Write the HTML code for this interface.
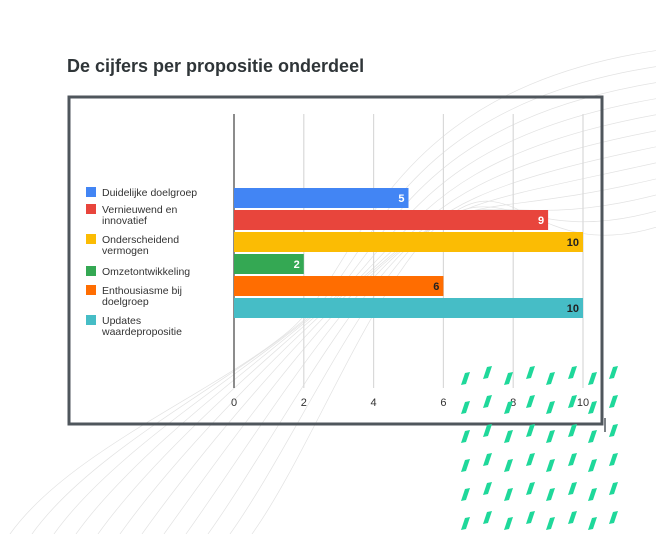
<!DOCTYPE html>
<html><head><meta charset="utf-8"><style>
body{margin:0;background:#fff;}
svg text{font-family:"Liberation Sans",sans-serif;}
</style></head><body>
<svg width="656" height="534" viewBox="0 0 656 534" xmlns="http://www.w3.org/2000/svg">
<g id="waves" fill="none" stroke="#e2e2e2" stroke-width="0.7"></g>
<text x="67" y="72" font-size="18" font-weight="bold" fill="#2f3538">De cijfers per propositie onderdeel</text>
<rect x="69" y="97" width="533" height="327" fill="none" stroke="#4f565c" stroke-width="3"/>
<line x1="605" y1="418" x2="605" y2="432" stroke="#4f565c" stroke-width="1.5"/>
<g id="grid"></g>
<g id="bars"></g>
<g id="legend"></g>
<g id="dashes" fill="#1fd89a"></g>
</svg>
<script>
const categories = ["Duidelijke doelgroep","Vernieuwend en innovatief","Onderscheidend vermogen","Omzetontwikkeling","Enthousiasme bij doelgroep","Updates waardepropositie"];
const legendLines = [["Duidelijke doelgroep"],["Vernieuwend en","innovatief"],["Onderscheidend","vermogen"],["Omzetontwikkeling"],["Enthousiasme bij","doelgroep"],["Updates","waardepropositie"]];
const values = [5,9,10,2,6,10];
const colors = ["#4285f4","#e8453c","#fbbc04","#34a853","#ff6d01","#46bdc6"];
const labelColors = ["#fff","#fff","#222","#fff","#222","#222"];
const ticks = [0,2,4,6,8,10];
const NS="http://www.w3.org/2000/svg";
function mk(t,a,p){const e=document.createElementNS(NS,t);for(const k in a)e.setAttribute(k,a[k]);p.appendChild(e);return e;}
const x0=234,x1=583,vmax=10;
const xs=v=>x0+(x1-x0)*v/vmax;
const ys=i=>188+i*22;
const grid=document.getElementById('grid');
ticks.forEach(t=>{
  const l=mk('line',{x1:xs(t),x2:xs(t),y1:114,y2:388,stroke:t===0?'#666':'#d9d9d9','stroke-width':t===0?1.5:1.2},grid);
  
  
  const tx=mk('text',{x:xs(t),y:406,'font-size':11,'text-anchor':'middle',fill:'#333'},grid);
  tx.textContent=t;
  
  
});
const bars=document.getElementById('bars');
values.forEach((v,i)=>{
  const r=mk('rect',{x:x0,y:ys(i),width:xs(v)-x0,height:20,fill:colors[i]},bars);
  
  
  const t=mk('text',{x:xs(v)-4,y:ys(i)+14,'font-size':11,'font-weight':'bold','text-anchor':'end',fill:labelColors[i]},bars);
  t.textContent=v;
  
  
});
const leg=document.getElementById('legend');
const legY=[188,205,235,267,286,316];
legendLines.forEach((ls,i)=>{
  const s=mk('rect',{x:86,y:legY[i]-1,width:10,height:10,fill:colors[i]},leg);
  
  
  ls.forEach((line,j)=>{
    const t=mk('text',{x:102,y:legY[i]+8+j*11,'font-size':10.5,fill:'#333'},leg);
    t.textContent=line;
    
    
  });
});
const waves=document.getElementById('waves');
for(let k=0;k<12;k++){
  const sx=10+k*22, cx=290+k*14, cy=330-k*10, ey=50+k*16;
  const p=mk('path',{d:`M ${sx} 534 C ${sx+60} 450, ${cx-70} ${cy+60}, ${cx} ${cy} S ${cx+90} ${ey+40}, 660 ${ey}`},waves);
  
  
}
const dashes=document.getElementById('dashes');
const cols=[465,487,508,530,550,572,592,613];
for(let r=0;r<6;r++)for(let c=0;c<cols.length;c++){
  const x=cols[c],y=377+r*29+(c%2===0?2:-4);
  const p=mk('polygon',{points:`${x-4},${y+6} ${x},${y-6} ${x+5},${y-7} ${x+1},${y+5}`},dashes);
  
  
}
</script>
</body></html>
